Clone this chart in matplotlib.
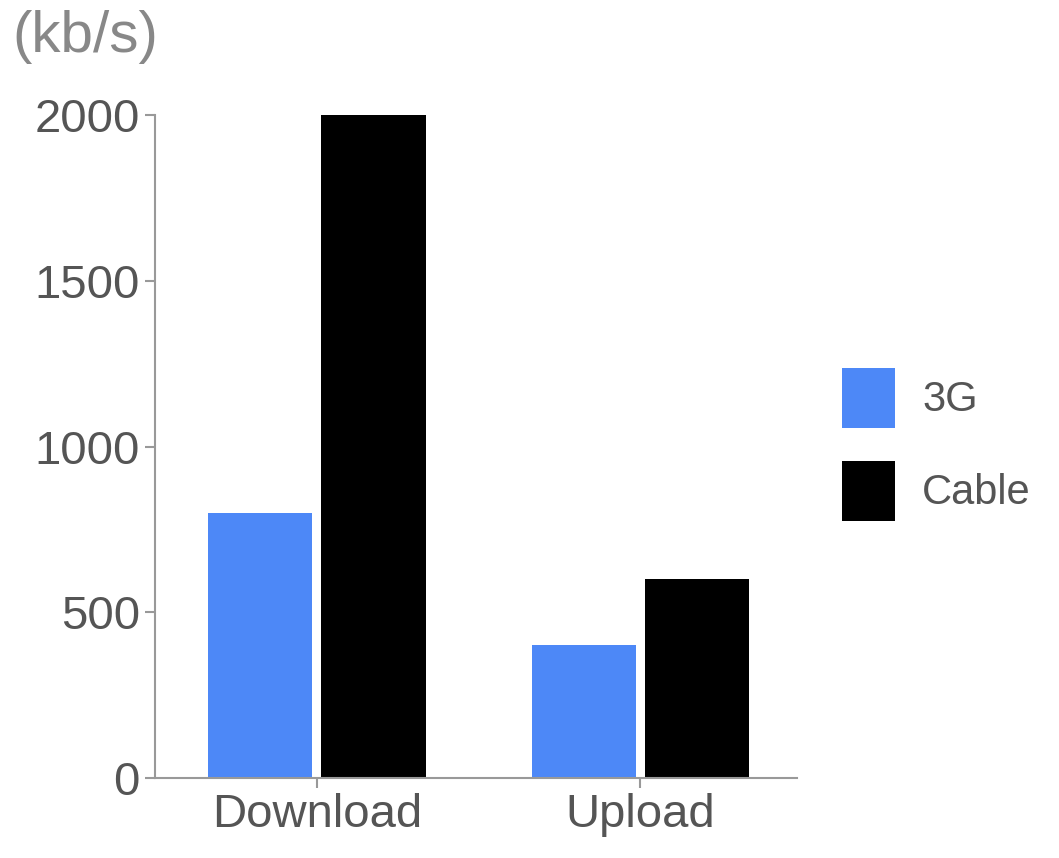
import matplotlib.pyplot as plt
import numpy as np

categories = ['Download', 'Upload']
series_names = ['3G', 'Cable']
speed_3g = [800, 400]
speed_cable = [2000, 600]
yticks = [0, 500, 1000, 1500, 2000]

plt.rcParams['font.family'] = ['Liberation Sans', 'DejaVu Sans']

fig = plt.figure(figsize=(10.59, 8.58), dpi=100)
ax = fig.add_axes([155 / 1059, 1 - 778 / 858, 642 / 1059, 663 / 858])

x = np.arange(len(categories))
w = 0.322
ax.bar(x - 0.175, speed_3g, w, color='#4d88f7', label=series_names[0])
ax.bar(x + 0.175, speed_cable, w, color='#000000', label=series_names[1])

ax.set_xlim(-0.5, 1.484)
ax.set_ylim(0, 2000)
ax.set_xticks(x)
ax.set_xticklabels(categories)
ax.set_yticks(yticks)

for s in ['top', 'right']:
    ax.spines[s].set_visible(False)
for s in ['left', 'bottom']:
    ax.spines[s].set_color('#999999')
    ax.spines[s].set_linewidth(1.5)
ax.tick_params(colors='#999999', labelcolor='#555555', labelsize=34,
               length=7, width=1.5, pad=4)

ax.legend(loc='center left', bbox_to_anchor=(842 / 1059, 1 - 444.5 / 858),
          bbox_transform=fig.transFigure, frameon=False, borderpad=0,
          borderaxespad=0, fontsize=30, labelcolor='#555555',
          handlelength=1.27, handleheight=1.86, handletextpad=0.65,
          labelspacing=0.78)

fig.text(12 / 1059, 1 - 52 / 858, '(kb/s)', fontsize=42, color='#888888')

fig.savefig('out.png', dpi=100)
